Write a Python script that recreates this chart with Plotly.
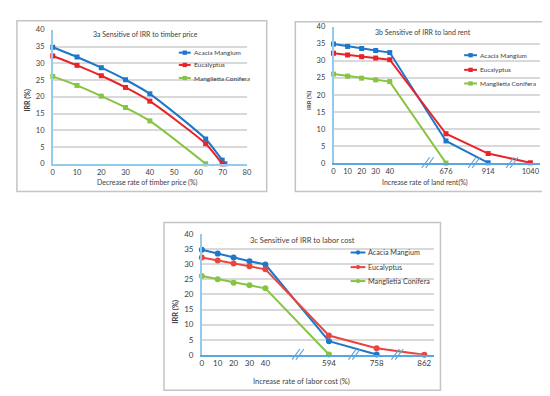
import plotly.graph_objects as go

W, H = 550, 396

# ---------------- data ----------------
series_names = ["Acacia Mangium", "Eucalyptus", "Manglietia Conifera"]

# 3a: decrease rate of timber price (%)
a_x_acacia = [0, 10, 20, 30, 40, 63, 69.8, 70.9]
a_acacia = [34.8, 31.9, 28.7, 25.1, 20.9, 7.4, 1.1, 0]
a_x_euc = [0, 10, 20, 30, 40, 63, 69.8]
a_euc = [32.2, 29.4, 26.3, 22.8, 18.7, 6.0, 0]
a_x_mang = [0, 10, 20, 30, 40, 63]
a_mang = [26.1, 23.4, 20.2, 16.8, 12.8, 0]

# 3b: increase rate of land rent (%)
b_labels = ["0", "10", "20", "30", "40", "676", "914", "1040"]
b_acacia = [34.9, 34.2, 33.6, 33.0, 32.4, 6.5, 0.1, None]
b_euc = [32.2, 31.7, 31.2, 30.8, 30.3, 8.6, 2.8, 0.1]
b_mang = [26.1, 25.5, 24.9, 24.4, 23.9, 0, None, None]

# 3c: increase rate of labor cost (%)
c_labels = ["0", "10", "20", "30", "40", "594", "758", "862"]
c_acacia = [34.8, 33.5, 32.2, 31.0, 29.9, 4.5, 0.1, None]
c_euc = [32.2, 31.2, 30.2, 29.3, 28.3, 6.4, 2.2, 0]
c_mang = [26.1, 25.0, 23.9, 23.0, 22.0, 0.1, None, None]

y_ticks = [0, 5, 10, 15, 20, 25, 30, 35, 40]
a_ticks = [0, 10, 20, 30, 40, 50, 60, 70, 80]

# ---------------- layout helpers ----------------
slots = [0, 1, 2, 3, 4, 8, 11, 14]   # broken-axis category slots
FONT = "Lato"
BLUE = "#1f77c9"
RED_A = "#e8242a"
RED_C = "#e8463f"
GREEN = "#86c441"
GRID = "#d9d9d9"
AXIS = "#93cbee"
AXIS2 = "#5aa6de"
TXT = "#404040"


def px(x):
    return x / W


def py(y):
    return 1 - y / H


# panel geometry in pixels
P = {
    "a": dict(x0=43.3, x1=240.0, yb=154.7, yt=17.3, rng=[0, 80]),
    "b": dict(x0=327.7, x1=537.0, yb=154.0, yt=14.0, rng=[0, 14.7]),
    "c": dict(x0=194.3, x1=429.3, yb=350.7, yt=226.7, rng=[0, 14.6]),
}

fig = go.Figure()

colors_ac = [BLUE, RED_A, GREEN]
colors_c = [BLUE, RED_C, GREEN]

# panel a
for xs, ys, col, nm in [(a_x_acacia, a_acacia, BLUE, series_names[0]),
                        (a_x_euc, a_euc, RED_A, series_names[1]),
                        (a_x_mang, a_mang, GREEN, series_names[2])]:
    fig.add_trace(go.Scatter(x=xs, y=ys, mode="lines+markers", name=nm,
                             line=dict(color=col, width=2, shape="spline", smoothing=0.6),
                             marker=dict(symbol="square", size=5, color=col),
                             cliponaxis=False, showlegend=False,
                             xaxis="x", yaxis="y"))

# panel b
for ys, col, nm in [(b_acacia, BLUE, series_names[0]),
                    (b_euc, RED_A, series_names[1]),
                    (b_mang, GREEN, series_names[2])]:
    fig.add_trace(go.Scatter(x=slots, y=ys, mode="lines+markers", name=nm,
                             line=dict(color=col, width=2),
                             marker=dict(symbol="square", size=5, color=col),
                             cliponaxis=False, showlegend=False,
                             xaxis="x2", yaxis="y2"))

# panel c
for ys, col, nm in [(c_acacia, BLUE, series_names[0]),
                    (c_euc, RED_C, series_names[1]),
                    (c_mang, GREEN, series_names[2])]:
    fig.add_trace(go.Scatter(x=slots, y=ys, mode="lines+markers", name=nm,
                             line=dict(color=col, width=2),
                             marker=dict(symbol="circle", size=6, color=col),
                             cliponaxis=False, showlegend=False,
                             xaxis="x3", yaxis="y3"))


def xaxis_cfg(k, tickvals, ticktext, linecolor, fs):
    g = P[k]
    return dict(domain=[px(g["x0"]), px(g["x1"])], range=g["rng"],
                tickvals=tickvals, ticktext=ticktext, showgrid=False,
                zeroline=False, showline=True, linecolor=linecolor, linewidth=1.5,
                ticks="",
                tickfont=dict(family=FONT, size=fs, color=TXT),
                fixedrange=True)


def yaxis_cfg(k, anchor, fs):
    g = P[k]
    return dict(domain=[py(g["yb"]), py(g["yt"])], range=[0, 40],
                tickvals=y_ticks, showgrid=True, gridcolor=GRID, gridwidth=1.5,
                zeroline=False, showline=True, linecolor=AXIS, linewidth=1.5,
                ticks="", ticklabelstandoff=5, anchor=anchor,
                tickfont=dict(family=FONT, size=fs, color=TXT), fixedrange=True)


layout = dict(
    width=W, height=H, margin=dict(l=0, r=0, t=0, b=0),
    paper_bgcolor="white", plot_bgcolor="white", showlegend=False,
    xaxis=dict(xaxis_cfg("a", a_ticks, [str(t) for t in a_ticks], AXIS, 7.5), anchor="y"),
    yaxis=yaxis_cfg("a", "x", 7.5),
    xaxis2=dict(xaxis_cfg("b", slots, b_labels, AXIS2, 7.5), anchor="y2"),
    yaxis2=yaxis_cfg("b", "x2", 7.5),
    xaxis3=dict(xaxis_cfg("c", slots, c_labels, AXIS2, 8), anchor="y3"),
    yaxis3=yaxis_cfg("c", "x3", 8),
)
fig.update_layout(**layout)

shapes = []
annotations = []

# panel frames
for (x0, y0, x1, y1) in [(7, 8, 260, 183), (289, 9, 542, 183), (156, 215, 436, 387)]:
    shapes.append(dict(type="rect", xref="paper", yref="paper",
                       x0=px(x0), x1=px(x1), y0=py(y1), y1=py(y0),
                       line=dict(color="#c4c4c4", width=1.5), layer="below"))


# broken-axis marks
def slot_px(k, s):
    g = P[k]
    return g["x0"] + (s - g["rng"][0]) / (g["rng"][1] - g["rng"][0]) * (g["x1"] - g["x0"])


for k, marks in [("b", [6.7, 10.0, 12.7]), ("c", [6.05, 9.6, 12.3])]:
    yb = P[k]["yb"]
    for m in marks:
        cx = slot_px(k, m)
        for off in (-2, 2):
            shapes.append(dict(type="line", xref="paper", yref="paper",
                               x0=px(cx + off - 4), y0=py(yb + 5),
                               x1=px(cx + off + 4), y1=py(yb - 6),
                               line=dict(color=AXIS2, width=1.2)))


def ann(text, x, y, size, angle=0, xanchor="center", color=TXT):
    annotations.append(dict(text=text, x=px(x), y=py(y), xref="paper", yref="paper",
                            showarrow=False, xanchor=xanchor, yanchor="middle",
                            textangle=angle, font=dict(family=FONT, size=size, color=color)))


ann("3a Sensitive of IRR to timber price", 137, 21.7, 7)
ann("3b Sensitive of IRR to land rent", 418, 19.3, 7)
ann("3c Sensitive of IRR to labor cost", 296.7, 233.3, 7.5)

ann("<b>IRR (%)</b>", 18, 90, 7, angle=-90)
ann("<b>IRR (%)</b>", 303, 89, 6, angle=-90)
ann("<b>IRR (%)</b>", 168, 306.7, 7.5, angle=-90)

ann("Decrease rate of timber price (%)", 139, 174, 7)
ann("Increase rate of land rent(%)", 420, 174, 7)
ann("Increase rate of labor cost (%)", 295, 378.3, 7.5)

# manual legends
legend_specs = [
    (171, 183, 184, [40.7, 53.3, 66.7], colors_ac, 6.5, "square"),
    (460, 473, 474, [43.3, 58.3, 72.3], colors_ac, 6.5, "square"),
    (345, 360, 361, [245.7, 260.7, 275.0], colors_c, 7.2, "circle"),
]
for lx0, lx1, tx, rows, cols, fs, sym in legend_specs:
    for nm, yy, col in zip(series_names, rows, cols):
        shapes.append(dict(type="line", xref="paper", yref="paper",
                           x0=px(lx0), x1=px(lx1), y0=py(yy), y1=py(yy),
                           line=dict(color=col, width=2)))
        cx = (lx0 + lx1) / 2
        shapes.append(dict(type="circle" if sym == "circle" else "rect",
                           xref="paper", yref="paper",
                           x0=px(cx - 2.2), x1=px(cx + 2.2), y0=py(yy + 2.2), y1=py(yy - 2.2),
                           fillcolor=col, line=dict(color=col, width=0)))
        ann(nm, tx, yy, fs, xanchor="left")

fig.update_layout(shapes=shapes, annotations=annotations)
fig.write_html("out.html")
